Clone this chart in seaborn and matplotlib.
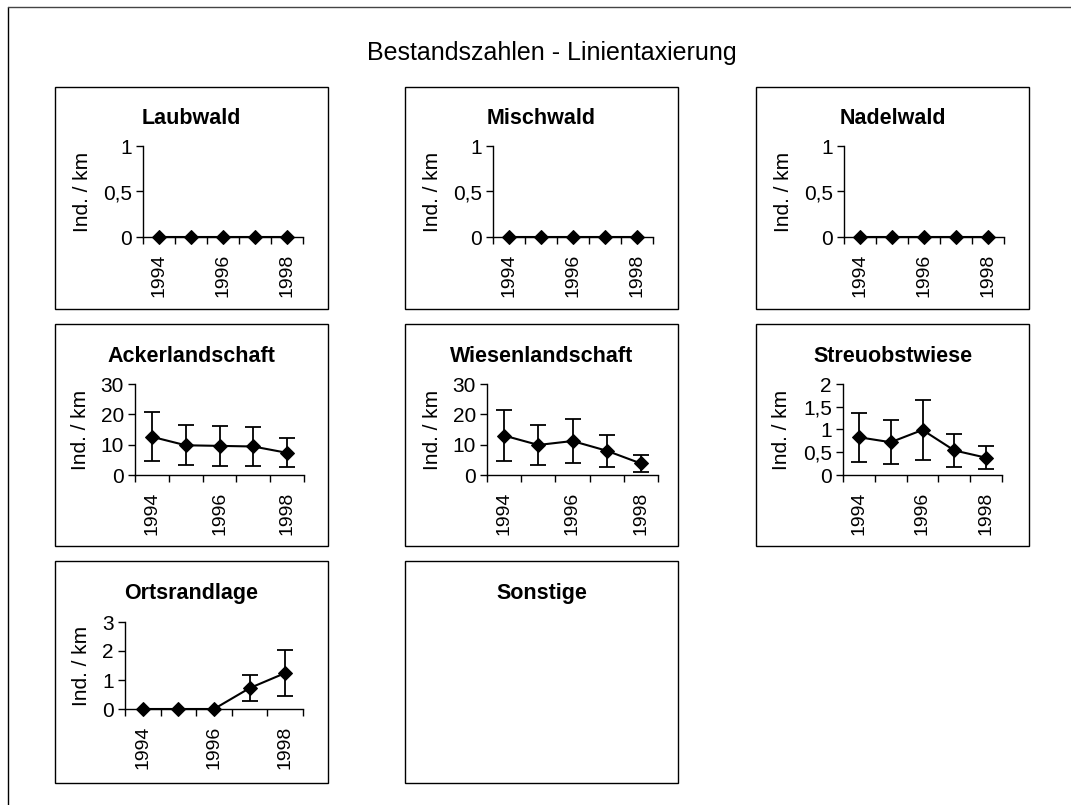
import numpy as np
import pandas as pd
import matplotlib
matplotlib.use("Agg")
import matplotlib.pyplot as plt
from matplotlib.patches import Rectangle
from matplotlib.lines import Line2D
from matplotlib.ticker import FuncFormatter
import seaborn as sns

# Daten
years = ['1994', '1995', '1996', '1997', '1998']

laubwald_mean = [0, 0, 0, 0, 0]
laubwald_sd = [0, 0, 0, 0, 0]
mischwald_mean = [0, 0, 0, 0, 0]
mischwald_sd = [0, 0, 0, 0, 0]
nadelwald_mean = [0, 0, 0, 0, 0]
nadelwald_sd = [0, 0, 0, 0, 0]
acker_mean = [12.6, 9.8, 9.6, 9.4, 7.3]
acker_sd = [8.1, 6.6, 6.6, 6.3, 4.8]
wiesen_mean = [13.0, 9.9, 11.2, 8.0, 3.8]
wiesen_sd = [8.3, 6.5, 7.2, 5.3, 2.7]
streuobst_mean = [0.83, 0.72, 0.99, 0.54, 0.38]
streuobst_sd = [0.54, 0.48, 0.66, 0.37, 0.25]
ortsrand_mean = [0, 0, 0, 0.72, 1.24]
ortsrand_sd = [0, 0, 0, 0.45, 0.80]

ticks_wald = [0, 0.5, 1]
ticks_acker = [0, 10, 20, 30]
ticks_streuobst = [0, 0.5, 1, 1.5, 2]
ticks_ortsrand = [0, 1, 2, 3]

panels = [
    ("Laubwald", laubwald_mean, laubwald_sd, ticks_wald),
    ("Mischwald", mischwald_mean, mischwald_sd, ticks_wald),
    ("Nadelwald", nadelwald_mean, nadelwald_sd, ticks_wald),
    ("Ackerlandschaft", acker_mean, acker_sd, ticks_acker),
    ("Wiesenlandschaft", wiesen_mean, wiesen_sd, ticks_acker),
    ("Streuobstwiese", streuobst_mean, streuobst_sd, ticks_streuobst),
    ("Ortsrandlage", ortsrand_mean, ortsrand_sd, ticks_ortsrand),
    ("Sonstige", None, None, None),
]

# Lage in Pixeln: Kasten links/oben, Achse x0/x1/oben/unten, rechter Rand der y-Beschriftung
layout = [
    (55, 87, 143, 303, 146, 237, 92),
    (405, 87, 493, 653, 146, 237, 442),
    (756, 87, 844, 1004, 146, 237, 793),
    (55, 324, 135, 304, 384, 475, 90),
    (405, 324, 487, 658, 384, 475, 442),
    (756, 324, 843, 1002, 384, 475, 791),
    (55, 561, 125, 303, 622, 709, 91),
    (405, 561, None, None, None, None, None),
]

W, H = 1071, 805
BOX_W, BOX_H = 273, 222

sns.set_theme(style="white")
plt.rcParams['font.family'] = ['Liberation Sans', 'DejaVu Sans']
plt.rcParams['text.color'] = 'black'
plt.rcParams['axes.labelcolor'] = 'black'
plt.rcParams['xtick.color'] = 'black'
plt.rcParams['ytick.color'] = 'black'

fig = plt.figure(figsize=(W / 100, H / 100), dpi=100)
fig.patch.set_facecolor('white')

# äußerer Rahmen (nur links und oben sichtbar)
fig.add_artist(Line2D([8 / W, 8 / W], [0, 1 - 7 / H], transform=fig.transFigure, color='black', lw=1))
fig.add_artist(Line2D([8 / W, 1], [1 - 7 / H, 1 - 7 / H], transform=fig.transFigure, color='#444444', lw=1))

fig.text(552 / W, 1 - 53 / H, "Bestandszahlen - Linientaxierung", ha='center', va='center', fontsize=18)

comma = FuncFormatter(lambda v, p: f"{v:g}".replace('.', ','))

for (name, mean, sd, yticks), (bx, by, x0, x1, yt, yb, lab_r) in zip(panels, layout):
    fig.add_artist(Rectangle((bx / W, 1 - (by + BOX_H) / H), BOX_W / W, BOX_H / H,
                             transform=fig.transFigure, fill=False, edgecolor='black', lw=1))
    fig.text((bx + BOX_W / 2) / W, 1 - (by + 32) / H, name, ha='center', va='center',
             fontsize=15.5, fontweight='bold')
    if mean is None:
        continue

    ax = fig.add_axes([x0 / W, 1 - yb / H, (x1 - x0) / W, (yb - yt) / H])
    ax.patch.set_alpha(0)
    pos = np.arange(len(years))
    df = pd.DataFrame({'pos': pos, 'wert': mean, 'sd': sd})

    sns.lineplot(data=df, x='pos', y='wert', ax=ax, color='black', linewidth=1.5,
                 marker='D', markersize=7, markeredgecolor='black', clip_on=False, zorder=4)
    err = df[df['sd'] > 0]
    ax.errorbar(err['pos'], err['wert'], yerr=err['sd'], fmt='none', ecolor='black',
                elinewidth=1.3, capsize=6, capthick=1.3, zorder=3)

    ax.set_xlim(-0.5, len(years) - 0.5)
    ax.set_ylim(yticks[0], yticks[-1])
    ax.set_yticks(yticks)
    ax.yaxis.set_major_formatter(comma)
    ax.set_xticks([0, 2, 4])
    ax.set_xticklabels([years[0], years[2], years[4]], rotation=90)
    ax.set_xticks(np.arange(-0.5, len(years), 1), minor=True)
    ax.tick_params(axis='x', which='major', length=0, pad=12, labelsize=14)
    ax.tick_params(axis='x', which='minor', length=5, width=1, direction='out', bottom=True, color='black')
    ax.tick_params(axis='y', length=5, width=1, direction='out', left=True, pad=3, labelsize=15, color='black')
    for s in ['top', 'right']:
        ax.spines[s].set_visible(False)
    for s in ['left', 'bottom']:
        ax.spines[s].set_color('black')
        ax.spines[s].set_linewidth(1)
    ax.set_xlabel('')
    ax.set_ylabel('Ind. / km', fontsize=15)
    ax.yaxis.set_label_coords((lab_r - x0) / (x1 - x0), 0.5)
    ax.grid(False)

fig.savefig("out.png", dpi=100, facecolor='white')
